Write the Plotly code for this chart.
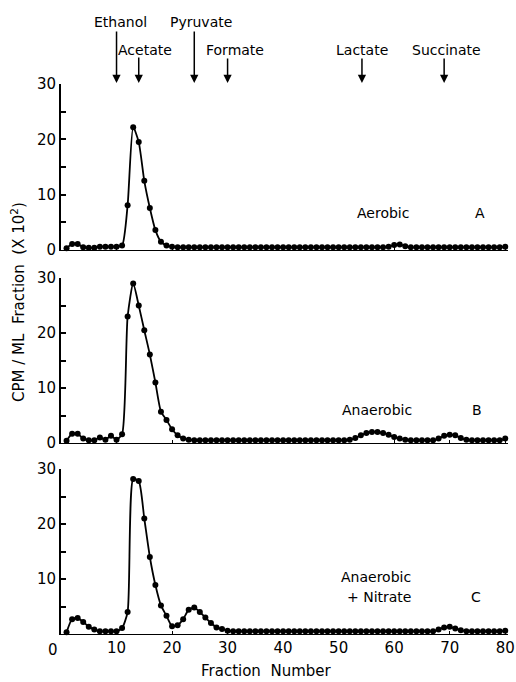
import plotly.graph_objects as go

# ---------------- data ----------------
fractions = list(range(1, 81))

aerobic = [0.3, 1.1, 1.1, 0.5, 0.4, 0.4, 0.6, 0.6, 0.6, 0.6,
           0.8, 8.1, 22.2, 19.5, 12.5, 7.6, 3.6, 1.5, 0.8, 0.6,
           0.5, 0.5, 0.5, 0.5, 0.5, 0.5, 0.5, 0.5, 0.5, 0.5,
           0.5, 0.5, 0.5, 0.5, 0.5, 0.5, 0.5, 0.5, 0.5, 0.5,
           0.5, 0.5, 0.5, 0.5, 0.5, 0.5, 0.5, 0.5, 0.5, 0.5,
           0.5, 0.5, 0.5, 0.5, 0.5, 0.5, 0.5, 0.5, 0.6, 0.9,
           1.0, 0.7, 0.5, 0.5, 0.5, 0.5, 0.5, 0.5, 0.5, 0.5,
           0.5, 0.5, 0.5, 0.5, 0.5, 0.5, 0.5, 0.5, 0.5, 0.6]

anaerobic = [0.4, 1.7, 1.7, 0.8, 0.5, 0.5, 1.0, 0.6, 1.3, 0.6,
             1.6, 23.0, 29.0, 25.0, 20.5, 16.1, 11.0, 5.7, 4.2, 2.5,
             1.4, 0.8, 0.6, 0.5, 0.5, 0.5, 0.5, 0.5, 0.5, 0.5,
             0.5, 0.5, 0.5, 0.5, 0.5, 0.5, 0.5, 0.5, 0.5, 0.5,
             0.5, 0.5, 0.5, 0.5, 0.5, 0.5, 0.5, 0.5, 0.5, 0.5,
             0.5, 0.6, 0.9, 1.4, 1.8, 2.0, 2.0, 1.8, 1.5, 1.1,
             0.8, 0.6, 0.5, 0.5, 0.5, 0.5, 0.5, 0.8, 1.3, 1.5,
             1.4, 0.9, 0.6, 0.5, 0.5, 0.5, 0.5, 0.5, 0.5, 0.8]

anaerobic_nitrate = [0.3, 2.7, 2.9, 2.2, 1.3, 0.8, 0.5, 0.5, 0.5, 0.5,
                     1.1, 4.0, 28.2, 27.8, 21.0, 14.0, 8.9, 5.2, 3.3, 1.4,
                     1.6, 2.7, 4.4, 4.8, 4.0, 3.0, 2.0, 1.2, 0.9, 0.6,
                     0.5, 0.5, 0.5, 0.5, 0.5, 0.5, 0.5, 0.5, 0.5, 0.5,
                     0.5, 0.5, 0.5, 0.5, 0.5, 0.5, 0.5, 0.5, 0.5, 0.5,
                     0.5, 0.5, 0.5, 0.5, 0.5, 0.5, 0.5, 0.5, 0.5, 0.5,
                     0.5, 0.5, 0.5, 0.5, 0.5, 0.5, 0.5, 0.8, 1.2, 1.3,
                     1.0, 0.7, 0.5, 0.5, 0.5, 0.5, 0.5, 0.5, 0.5, 0.6]

markers_names = ["Ethanol", "Acetate", "Pyruvate", "Formate", "Lactate", "Succinate"]
markers_fraction = [10, 14, 24, 30, 54.2, 69]

x_tickvals = [0, 10, 20, 30, 40, 50, 60, 70, 80]
x_ticktext = ["", "10", "20", "30", "40", "50", "60", "70", "80"]
y_tickvals = [0, 5, 10, 15, 20, 25, 30]
y_ticktext = ["0", "", "10", "", "20", "", "30"]
y_ticktext_c = ["", "", "10", "", "20", "", "30"]

# ---------------- layout geometry ----------------
W, H = 516, 682
ML, MR = 61, 8
PW = W - ML - MR


def px_x(px):
    return (px - ML) / PW


def px_y(py):
    return 1 - py / H


FONT = "DejaVu Sans"

fig = go.Figure()
panels = [
    (aerobic, "x", "y"),
    (anaerobic, "x2", "y2"),
    (anaerobic_nitrate, "x3", "y3"),
]
for vals, xa, ya in panels:
    fig.add_trace(go.Scatter(
        x=fractions, y=vals, mode="lines+markers",
        line=dict(color="black", width=1.8, shape="spline", smoothing=0.6),
        marker=dict(size=6, color="black"),
        cliponaxis=False, showlegend=False,
        xaxis=xa, yaxis=ya))

domains = [
    (px_y(250), px_y(84)),
    (px_y(443), px_y(278)),
    (px_y(634), px_y(469)),
]

common_x = dict(range=[0, 80.5], showgrid=False, zeroline=False,
                showline=True, linecolor="black", linewidth=1.2,
                ticks="inside", ticklen=3, tickwidth=1, tickcolor="black",
                tickvals=x_tickvals, automargin=False,
                tickfont=dict(family=FONT, size=15, color="black"))
common_y = dict(range=[0, 30], showgrid=False, zeroline=False,
                showline=True, linecolor="black", linewidth=1.8,
                ticks="inside", ticklen=5, tickwidth=1.5, tickcolor="black",
                tickvals=y_tickvals, automargin=False,
                tickfont=dict(family=FONT, size=15, color="black"))

fig.update_layout(
    width=W, height=H,
    margin=dict(l=ML, r=MR, t=0, b=0),
    paper_bgcolor="white", plot_bgcolor="white",
    xaxis=dict(common_x, anchor="y", showticklabels=False),
    yaxis=dict(common_y, anchor="x", domain=list(domains[0]), ticktext=y_ticktext),
    xaxis2=dict(common_x, anchor="y2", showticklabels=False),
    yaxis2=dict(common_y, anchor="x2", domain=list(domains[1]), ticktext=y_ticktext),
    xaxis3=dict(common_x, anchor="y3", showticklabels=True, ticktext=x_ticktext),
    yaxis3=dict(common_y, anchor="x3", domain=list(domains[2]), ticktext=y_ticktext_c),
)

ann = []
txt_font = dict(family=FONT, size=14, color="black")


def text(s, px, py, size=14, **kw):
    ann.append(dict(text=s, x=px_x(px), y=px_y(py), xref="paper", yref="paper",
                    showarrow=False, font=dict(txt_font, size=size), xanchor="center",
                    yanchor="middle", **kw))


# compound labels and arrows
label_pos = [(120, 22), (145, 50), (201, 22), (235, 50), (362, 50), (446, 50)]
tail_py = [30, 56, 30, 57, 57, 57]
head_py = 83
for name, frac, (lx, ly), ty in zip(markers_names, markers_fraction, label_pos, tail_py):
    text(name, lx, ly)
    ann.append(dict(text="", x=frac, y=px_y(head_py), xref="x", yref="paper",
                    showarrow=True, ax=0, ay=-(head_py - ty), arrowhead=2,
                    arrowsize=1.1, arrowwidth=1.5, arrowcolor="black", standoff=0))

text("Aerobic", 383, 213)
text("A", 480, 213)
text("Anaerobic", 377, 410)
text("B", 477, 410)
text("Anaerobic", 376, 577)
text("+ Nitrate", 379, 597)
text("C", 476, 597)
text("0", 53, 650, size=15)
text("Fraction  Number", 266, 671, size=15)
text("CPM / ML  Fraction  (X 10<sup>2</sup>)", 18, 302, size=15, textangle=-90)

fig.update_layout(annotations=ann)

fig.write_html(
    "out.html",
    config={"displayModeBar": False},
    post_script="document.body.style.margin='0';document.body.style.overflow='hidden';",
)
